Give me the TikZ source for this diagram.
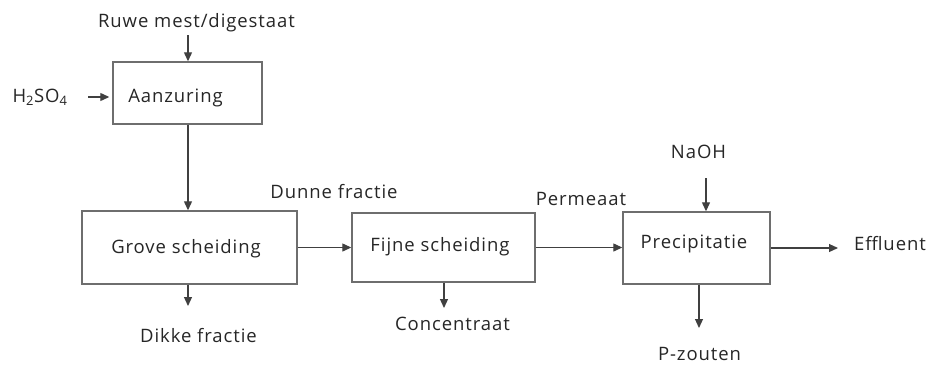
\documentclass[tikz,border=0pt]{standalone}
\usepackage{fontspec}
\setmainfont{Open Sans}[LetterSpace=5]
\usetikzlibrary{arrows.meta,shadows}
\definecolor{txt}{HTML}{262626}
\definecolor{edge}{HTML}{6E6E6E}
\definecolor{arrc}{HTML}{404040}
\tikzset{
  box/.style={draw=edge, line width=1.4pt, fill=white, rectangle, inner sep=0pt,
    drop shadow={opacity=0.25, shadow xshift=1.3pt, shadow yshift=-1.3pt}},
  lab/.style={font=\fontsize{18.5}{21}\selectfont, text=txt, inner sep=1pt, anchor=base},
  arr/.style={draw=arrc, line width=1.2pt, -{Triangle[length=9pt,width=8pt]}}
}
\begin{document}
\begin{tikzpicture}[x=1pt,y=-1pt]
\useasboundingbox (0,0) rectangle (932,365);
% boxes
\node[box, minimum width=149pt, minimum height=62pt] (a) at (187.5,93) {};
\node[box, minimum width=215pt, minimum height=73pt] (g) at (189.5,247.5) {};
\node[box, minimum width=183pt, minimum height=69pt] (f) at (443.5,247.5) {};
\node[box, minimum width=147pt, minimum height=72pt] (p) at (696.5,248) {};
% box texts
\node[lab] (at) at (175.5,102) {Aanzuring};
\node[lab] (gt) at (186,253) {Grove scheiding};
\node[lab] (ft) at (440,251) {Fijne scheiding};
\node[lab] (pt) at (694,248) {Precipitatie};
% labels
\node[lab] (r) at (196.5,27) {Ruwe mest/digestaat};
\node[lab] (h) at (40,102) {H\textsubscript{2}SO\textsubscript{4}};
\node[lab] (d) at (198.5,342) {Dikke fractie};
\node[lab] (dn) at (334,198) {Dunne fractie};
\node[lab] (c) at (452.5,330) {Concentraat};
\node[lab] (pm) at (581,205) {Permeaat};
\node[lab] (n) at (698.5,158) {NaOH};
\node[lab] (e) at (890,250) {Effluent};
\node[lab] (z) at (699.5,360) {P-zouten};
% connectors
\coordinate (rs) at (188,35);
\coordinate (hs) at (88,97);
\coordinate (ds) at (188,306);
\coordinate (cs) at (444,308);
\coordinate (ns) at (706,178);
\coordinate (es) at (838,248);
\coordinate (zs) at (699,328);
\draw[arr] (rs) -- (rs |- a.north);
\draw[arr, shorten >=3pt] (hs) -- (hs -| a.west);
\draw[arr] (a.south -| rs) -- (rs |- g.north);
\draw[arr] (g.south -| ds) -- (ds);
\draw[arr] (g.east) -- (g.east -| f.west);
\draw[arr] (f.south -| cs) -- (cs);
\draw[arr] (f.east) -- (f.east -| p.west);
\draw[arr] (ns) -- (ns |- p.north);
\draw[arr] (p.east |- es) -- (es);
\draw[arr] (p.south -| zs) -- (zs);
\end{tikzpicture}
\end{document}
